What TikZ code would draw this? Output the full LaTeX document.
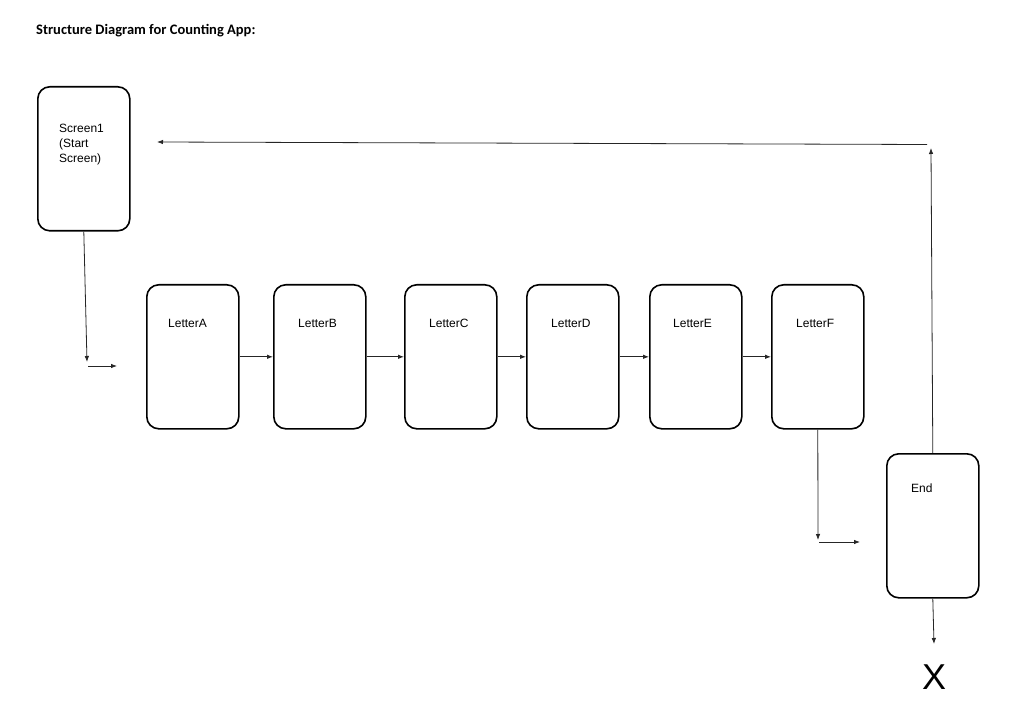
\documentclass[tikz,border=0pt]{standalone}
\usepackage{fontspec}
\setmainfont{Liberation Sans}
\newfontfamily\titlefont{Carlito}
\usetikzlibrary{arrows.meta,calc}
\tikzset{
  box/.style={draw=black, line width=1.6pt, rounded corners=12pt, minimum width=92pt, minimum height=144pt, anchor=north west, inner sep=0pt},
  lbl/.style={font=\fontsize{12}{15}\selectfont, anchor=base west, inner sep=0pt},
  conn/.style={draw=black!85, line width=0.8pt, -{Latex[length=6pt,width=4.5pt]}}
}
\begin{document}
\begin{tikzpicture}[x=1pt,y=-1pt]
\useasboundingbox[fill=white] (0,0) rectangle (1010,727);
\node[anchor=base west, inner sep=0pt, font=\titlefont\bfseries\fontsize{14.5}{17}\selectfont] (title) at (36,35) {Structure Diagram for Counting App:};
% boxes
\node[box] (S) at (37,86) {};
\node[box] (A) at (146,284) {};
\node[box] (B) at (273,284) {};
\node[box] (C) at (404,284) {};
\node[box] (D) at (526,284) {};
\node[box] (E) at (649,284) {};
\node[box] (F) at (771,284) {};
\node[box] (End) at (886,453) {};
% labels
\node[anchor=north west, inner sep=0pt, align=left, font=\fontsize{12}{15}\selectfont] (St) at (59,123.5) {Screen1\\(Start\\Screen)};
\node[lbl] (At) at (168,328) {LetterA};
\node[lbl] (Bt) at (298,328) {LetterB};
\node[lbl] (Ct) at (429,328) {LetterC};
\node[lbl] (Dt) at (551,328) {LetterD};
\node[lbl] (Et) at (673,328) {LetterE};
\node[lbl] (Ft) at (796,328) {LetterF};
\node[lbl] (Endt) at (911,492) {End};
\node[inner sep=0pt, font=\fontsize{36}{40}\selectfont] (X) at (934,677) {X};
% free-end coordinates
\coordinate (s1a) at (87,362);
\coordinate (s1b) at (88,366);
\coordinate (s1c) at (117,366);
\coordinate (fa) at (818,540);
\coordinate (fb) at (819,542);
\coordinate (fc) at (860,542);
\coordinate (ea) at (931,148);
\coordinate (eb) at (927,144.5);
\coordinate (ec) at (157,142);
\coordinate (ed) at (934,644);
% connectors
\draw[conn] (S.south) -- (s1a);
\draw[conn] (s1b) -- (s1c);
\draw[conn] (A.east) -- (B.west);
\draw[conn] (B.east) -- (C.west);
\draw[conn] (C.east) -- (D.west);
\draw[conn] (D.east) -- (E.west);
\draw[conn] (E.east) -- (F.west);
\draw[conn] (F.south) -- (fa);
\draw[conn] (fb) -- (fc);
\draw[conn] (End.north) -- (ea);
\draw[conn] (eb) -- (ec);
\draw[conn] (End.south) -- (ed);
\end{tikzpicture}
\end{document}
